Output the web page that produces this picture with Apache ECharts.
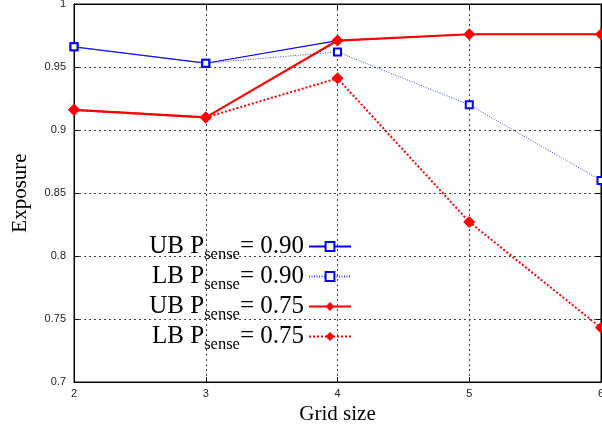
<!DOCTYPE html>
<html>
<head>
<meta charset="utf-8">
<script src="https://cdn.jsdelivr.net/npm/echarts@6/dist/echarts.min.js"></script>
<style>
html,body{margin:0;padding:0;background:#fff;}
#main{width:602px;height:427px;}
</style>
</head>
<body>
<div id="main"></div>
<script>
var gridSizes = [2, 3, 4, 5, 6];
var ub090 = [0.966, 0.953, 0.971, 0.976, 0.976];
var lb090 = [0.966, 0.953, 0.962, 0.920, 0.860];
var ub075 = [0.916, 0.910, 0.971, 0.976, 0.976];
var lb075 = [0.916, 0.910, 0.941, 0.827, 0.743];
var seriesNames = ['UB 0.90', 'LB 0.90', 'UB 0.75', 'LB 0.75'];

function pairs(vals) {
    var out = [];
    for (var i = 0; i < gridSizes.length; i++) {
        out.push([gridSizes[i], vals[i]]);
    }
    return out;
}

// blue UB squares sit under the red diamonds where both bounds coincide
function ubSquareSize(val, params) {
    return ub075[params.dataIndex] === val[1] ? 0 : 7;
}

var serif = '"Liberation Serif", "DejaVu Serif", serif';
var sans = '"Liberation Sans", Arial, sans-serif';

var myChart = echarts.init(document.getElementById('main'));

var gridLine = { show: true, lineStyle: { color: '#444', width: 1, type: [2, 3] } };

myChart.setOption({
    animation: false,
    grid: {
        left: 74, right: 1, top: 4, bottom: 45,
        outerBoundsMode: 'none',
        show: true, borderColor: '#000', borderWidth: 1
    },
    xAxis: [
        {
            type: 'value', min: 2, max: 6, interval: 1,
            name: 'Grid size', nameLocation: 'middle', nameGap: 18,
            nameTextStyle: { fontFamily: serif, fontSize: 21, color: '#000' },
            axisLine: { lineStyle: { color: '#000' } },
            axisTick: { inside: true, length: 5, lineStyle: { color: '#000' } },
            axisLabel: { fontFamily: sans, fontSize: 11, color: '#222', margin: 6 },
            splitLine: gridLine
        },
        {
            type: 'value', min: 2, max: 6, interval: 1, position: 'top',
            axisLine: { lineStyle: { color: '#000' } },
            axisTick: { inside: true, length: 5, lineStyle: { color: '#000' } },
            axisLabel: { show: false },
            splitLine: { show: false }
        }
    ],
    yAxis: [
        {
            type: 'value', min: 0.7, max: 1, interval: 0.05,
            name: 'Exposure', nameLocation: 'middle', nameGap: 43,
            nameTextStyle: { fontFamily: serif, fontSize: 21, color: '#000' },
            axisLine: { show: true, lineStyle: { color: '#000' } },
            axisTick: { show: true, inside: true, length: 5, lineStyle: { color: '#000' } },
            axisLabel: { fontFamily: sans, fontSize: 11, color: '#222', margin: 8 },
            splitLine: gridLine
        },
        {
            type: 'value', min: 0.7, max: 1, interval: 0.05, position: 'right',
            axisLine: { show: true, lineStyle: { color: '#000' } },
            axisTick: { show: true, inside: true, length: 5, lineStyle: { color: '#000' } },
            axisLabel: { show: false },
            splitLine: { show: false }
        }
    ],
    legend: {
        orient: 'vertical',
        align: 'right',
        right: 250, top: 230, padding: 0,
        itemWidth: 42, itemHeight: 11, itemGap: -3,
        data: seriesNames,
        formatter: function (name) {
            var p = name.split(' ');
            return '{a|' + p[0] + ' P}{s|sense}{a|= ' + p[1] + '}';
        },
        textStyle: {
            color: '#000',
            rich: {
                a: { fontFamily: serif, fontSize: 25, lineHeight: 25, color: '#000', verticalAlign: 'middle' },
                s: { fontFamily: serif, fontSize: 16.5, lineHeight: 16, color: '#000', verticalAlign: 'middle', padding: [16, 0, 0, 0] }
            }
        }
    },
    series: [
        {
            name: seriesNames[0], type: 'line', data: pairs(ub090),
            symbol: 'emptyRect', symbolSize: ubSquareSize,
            itemStyle: { color: '#0000ff', borderWidth: 1.2 },
            lineStyle: { color: '#0000ff', width: 1.2 }
        },
        {
            name: seriesNames[1], type: 'line', data: pairs(lb090),
            symbol: 'emptyRect', symbolSize: 7,
            itemStyle: { color: '#0000ff', borderWidth: 1.2 },
            lineStyle: { color: '#3344ff', width: 1, type: [1, 1.5] }
        },
        {
            name: seriesNames[2], type: 'line', data: pairs(ub075),
            symbol: 'diamond', symbolSize: 12,
            itemStyle: { color: '#ff0000' },
            lineStyle: { color: '#ff0000', width: 2.2 }
        },
        {
            name: seriesNames[3], type: 'line', data: pairs(lb075),
            symbol: 'diamond', symbolSize: 12,
            itemStyle: { color: '#ff0000' },
            lineStyle: { color: '#ff0000', width: 2, type: [2, 2] }
        }
    ]
});
</script>
</body>
</html>
